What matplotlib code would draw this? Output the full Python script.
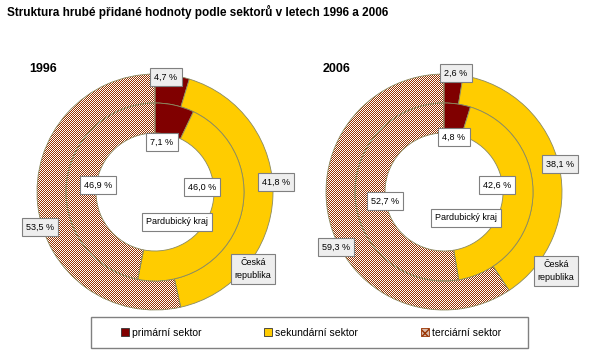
import numpy as np
import matplotlib.pyplot as plt
from matplotlib.patches import Patch, Rectangle

# shares of gross value added (%) - primary, secondary, tertiary
sectors = ["primární sektor", "sekundární sektor", "terciární sektor"]
cr_1996 = [4.7, 41.8, 53.5]   # Česká republika (outer ring)
pk_1996 = [7.1, 46.0, 46.9]   # Pardubický kraj (inner ring)
cr_2006 = [2.6, 38.1, 59.3]
pk_2006 = [4.8, 42.6, 52.7]
colors = ["#800000", "#FFCC00", "#993300"]

W, H = 592, 364
plt.rcParams['font.family'] = ['Liberation Sans', 'DejaVu Sans']
fig = plt.figure(figsize=(W / 100, H / 100), dpi=100)
ax = fig.add_axes([0, 0, 1, 1])

# 1px checker pattern for the tertiary sector
yy, xx = np.mgrid[0:H, 0:W]
brown = np.array([0x99, 0x33, 0x00]) / 255
white = np.array([1.0, 1.0, 1.0])
checker = np.where(((xx + yy) % 2 == 0)[..., None], brown, white)


def fmt(v):
    return f"{v:.1f}".replace(".", ",") + " %"


def lab(x, y, s, bg):
    ax.text(x, H - y, s, ha="center", va="center", fontsize=6.5, zorder=5,
            linespacing=1.6,
            bbox=dict(boxstyle="square,pad=0.45", fc=bg, ec="#808080", lw=0.8))


def donut(cx, cy, outer, inner, year, year_x, pos_out, pos_in, pos_names):
    for vals, r, w in ((outer, 118, 29), (inner, 89, 30)):
        wedges, _ = ax.pie(vals, radius=r, center=(cx, H - cy), startangle=90,
                           counterclock=False, colors=colors,
                           wedgeprops=dict(width=w, edgecolor="#8a8a60", linewidth=0.6))
        wedges[2].set_facecolor("none")
        im = fig.figimage(checker, xo=0, yo=0, origin="lower", zorder=-1)
        im.set_clip_path(wedges[2])
    for v, (x, y) in zip(outer, pos_out):
        lab(x, y, fmt(v), "#EEEEEE")
    for v, (x, y) in zip(inner, pos_in):
        lab(x, y, fmt(v), "white")
    lab(pos_names[0][0], pos_names[0][1], "Pardubický kraj", "white")
    lab(pos_names[1][0], pos_names[1][1], "Česká\nrepublika", "#EEEEEE")
    ax.text(year_x, H - 69, year, fontsize=9, fontweight="bold", va="center")


donut(155, 192, cr_1996, pk_1996, "1996", 29,
      [(166, 77), (276, 182), (40, 227)],
      [(162, 142), (202, 187), (98, 185)],
      [(177, 222), (253, 269)])
donut(444, 192, cr_2006, pk_2006, "2006", 323,
      [(456, 73), (560, 164), (336, 247)],
      [(454, 137), (497, 185), (385, 201)],
      [(466, 218), (556, 271)])

fig.text(7 / W, 1 - 12 / H, "Struktura hrubé přidané hodnoty podle sektorů v letech 1996 a 2006",
         fontsize=8.5, fontweight="bold", va="center")

# legend
ax.add_patch(Rectangle((91, H - 348), 437, 31, fill=False, ec="#808080", lw=1, zorder=3))
handles = [Patch(fc=colors[0], ec="#333333", lw=0.6),
           Patch(fc=colors[1], ec="#333333", lw=0.6),
           Patch(fc="#d8b8a8", ec="#993300", lw=0.6, hatch="xxxx")]
leg = ax.legend(handles, sectors, loc="center left", bbox_to_anchor=(121, H - 348, 380, 31),
                bbox_transform=ax.transData, mode="expand", ncol=3, frameon=False,
                borderpad=0, borderaxespad=0, handlelength=0.75, handleheight=0.75,
                handletextpad=0.3, fontsize=7.5)

ax.set_xlim(0, W)
ax.set_ylim(0, H)
ax.set_aspect("auto")
ax.axis("off")
fig.savefig("out.png", dpi=100)
